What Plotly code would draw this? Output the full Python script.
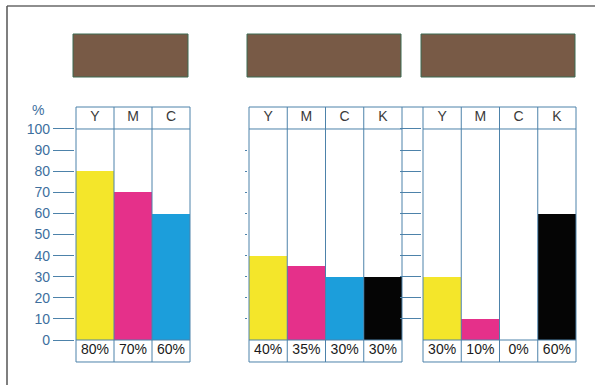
import plotly.graph_objects as go

# Ink coverage per separation, before and after under-colour / grey-component removal
inks_a = ["Y", "M", "C"]
vals_a = [80, 70, 60]
inks_b = ["Y", "M", "C", "K"]
vals_b = [40, 35, 30, 30]
inks_c = ["Y", "M", "C", "K"]
vals_c = [30, 10, 0, 60]
y_ticks = [0, 10, 20, 30, 40, 50, 60, 70, 80, 90, 100]

INK_COLORS = {"Y": "#f4e62a", "M": "#e5308a", "C": "#1c9edb", "K": "#050505"}
RULE = "#4d82aa"
TICK_TXT = "#3d6f9e"
FONT = "Liberation Sans, Arial, sans-serif"

W, H = 595, 385
ZERO_PX, HUNDRED_PX = 340, 129          # pixel rows of 0 % and 100 %
PXU = (ZERO_PX - HUNDRED_PX) / 100      # pixels per percent
HEAD = 22 / PXU                         # header row height (in %)
FOOT = 22 / PXU                         # value row height (in %)
Y_RANGE = [-FOOT - 1.5, 100 + HEAD + 1.5]
DOM_Y = [1 - (ZERO_PX - Y_RANGE[0] * PXU) / H, 1 - (ZERO_PX - Y_RANGE[1] * PXU) / H]
PAD = 0.03

panels = [
    dict(left=76, cw=38.0, inks=inks_a, vals=vals_a),
    dict(left=249, cw=38.25, inks=inks_b, vals=vals_b),
    dict(left=423, cw=38.25, inks=inks_c, vals=vals_c),
]

fig = go.Figure()
shapes = []
layout = dict(
    width=W, height=H, margin=dict(l=0, r=0, t=0, b=0),
    paper_bgcolor="white", plot_bgcolor="rgba(0,0,0,0)",
    showlegend=False, bargap=0, font=dict(family=FONT),
)

for k, p in enumerate(panels, start=1):
    sfx = "" if k == 1 else str(k)
    n = len(p["inks"])
    xr = [-0.5 - PAD, n - 0.5 + PAD]
    dom_x = [(p["left"] - PAD * p["cw"]) / W, (p["left"] + (n + PAD) * p["cw"]) / W]
    xa, ya = "x" + sfx, "y" + sfx

    fig.add_trace(go.Bar(
        x=list(range(n)), y=p["vals"], width=1,
        marker=dict(color=[INK_COLORS[i] for i in p["inks"]], line=dict(width=0)),
        xaxis=xa, yaxis=ya, hoverinfo="skip",
    ))
    # ink letters in the header row
    fig.add_trace(go.Scatter(
        x=list(range(n)), y=[100 + HEAD / 2] * n, mode="text", text=p["inks"],
        textfont=dict(size=14, color="#3a3a3a", family=FONT),
        xaxis=xa, yaxis=ya, hoverinfo="skip",
    ))
    # percentage row under the bars
    fig.add_trace(go.Scatter(
        x=list(range(n)), y=[-FOOT / 2] * n, mode="text",
        text=[f"{v}%" for v in p["vals"]],
        textfont=dict(size=14, color="#1a1a1a", family=FONT),
        xaxis=xa, yaxis=ya, hoverinfo="skip",
    ))

    layout["xaxis" + sfx] = dict(
        domain=dom_x, range=xr, anchor=ya, showgrid=False, zeroline=False,
        showticklabels=False, ticks="", showline=False, fixedrange=True,
    )
    layout["yaxis" + sfx] = dict(
        domain=DOM_Y, range=Y_RANGE, anchor=xa, showgrid=False, zeroline=False,
        showline=False, fixedrange=True, ticks="outside", tickcolor=RULE, tickwidth=1,
    )

    # table rules: column separators and row borders
    for j in range(n + 1):
        shapes.append(dict(type="line", xref=xa, yref=ya, x0=j - 0.5, x1=j - 0.5,
                           y0=-FOOT, y1=100 + HEAD, line=dict(color=RULE, width=1), layer="above"))
    for yy in (-FOOT, 0, 100, 100 + HEAD):
        shapes.append(dict(type="line", xref=xa, yref=ya, x0=-0.5, x1=n - 0.5,
                           y0=yy, y1=yy, line=dict(color=RULE, width=1), layer="above"))

# scale on the first table
layout["yaxis"].update(tickvals=y_ticks, ticktext=[str(t) for t in y_ticks], ticklen=21,
                       tickfont=dict(size=14, color=TICK_TXT, family=FONT))
# short marks on the inner edges
layout["yaxis2"].update(tickvals=y_ticks[1:-1], ticklen=2, showticklabels=False)
layout["yaxis4"] = dict(overlaying="y", anchor="x", side="right", range=Y_RANGE,
                        showgrid=False, zeroline=False, showline=False, fixedrange=True,
                        tickvals=y_ticks[1:-1], ticks="outside", ticklen=2, tickcolor=RULE,
                        showticklabels=False)
# ladder between the second and third tables
layout["yaxis3"].update(tickvals=y_ticks[1:], ticklen=21, showticklabels=False)
shapes.append(dict(type="line", xref="paper", yref="y3",
                   x0=(panels[1]["left"] + 4 * panels[1]["cw"]) / W, x1=panels[2]["left"] / W,
                   y0=100 + HEAD, y1=100 + HEAD, line=dict(color=RULE, width=1)))

# colour swatches above each table
for x0, x1 in ((73, 188), (247, 401), (421, 575)):
    shapes.append(dict(type="rect", xref="paper", yref="paper",
                       x0=x0 / W, x1=x1 / W, y0=1 - 77 / H, y1=1 - 34 / H,
                       fillcolor="#785a46", line=dict(color="#3d6b52", width=1)))

# page frame
shapes.append(dict(type="line", xref="paper", yref="paper", x0=7 / W, x1=1,
                   y0=1 - 6 / H, y1=1 - 6 / H, line=dict(color="#8e8e8e", width=2)))
shapes.append(dict(type="line", xref="paper", yref="paper", x0=7 / W, x1=7 / W,
                   y0=0, y1=1 - 6 / H, line=dict(color="#555555", width=1.5)))

layout["shapes"] = shapes
layout["annotations"] = [dict(
    text="%", xref="paper", yref="y", x=37.5 / W, y=109, showarrow=False,
    font=dict(size=14, color=TICK_TXT, family=FONT), xanchor="center", yanchor="middle",
)]

fig.update_layout(**layout)
fig.write_html("out.html")
